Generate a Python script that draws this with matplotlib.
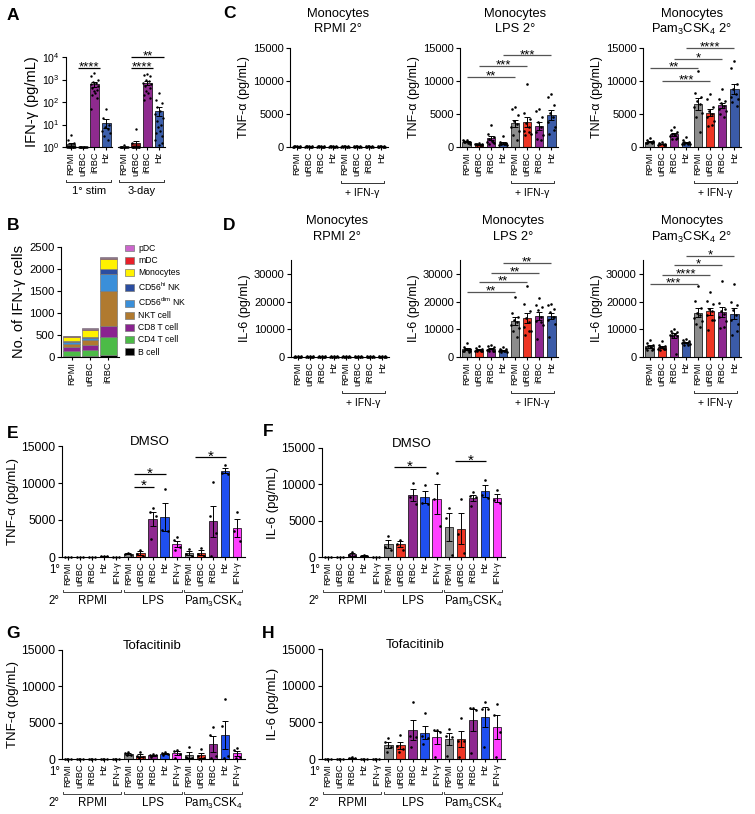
import numpy as np
import matplotlib
matplotlib.use("Agg")
import matplotlib.pyplot as plt
import matplotlib.transforms as mtransforms
from matplotlib.patches import Patch
from matplotlib.ticker import NullLocator, LogFormatterMathtext

plt.rcParams.update({
    'font.family': ['Liberation Sans', 'DejaVu Sans'],
    'mathtext.fontset': 'custom',
    'mathtext.rm': 'Liberation Sans',
    'mathtext.it': 'Liberation Sans:italic',
    'mathtext.bf': 'Liberation Sans:bold',
    'mathtext.default': 'regular',
    'axes.linewidth': 0.8,
})

W, H = 755, 814

# ===================== DATA =====================
# Panel A: IFN-gamma (pg/mL), log scale
a_tick_labels = ['RPMI', 'uRBC', 'iRBC', 'Hz', 'RPMI', 'uRBC', 'iRBC', 'Hz']
a_group_labels = ['1° stim', '3-day']
a_stim = [
    [3.5, 2, 1.5, 1, 1, 1, 1, 1, 1, 1, 1, 1, 1],
    [1, 1, 1, 1, 1, 1, 1, 1, 1, 1, 1, 1],
    [2000, 1400, 1000, 800, 700, 600, 500, 400, 350, 300, 250, 200, 150, 50],
    [50, 20, 10, 8, 6, 5, 4, 3, 2],
]
a_3day = [
    [1.2, 1, 1, 1, 1, 1, 1, 1, 1, 1, 1, 1],
    [6, 1.5, 1, 1, 1, 1, 1, 1, 1, 1, 1, 1],
    [1800, 1600, 1400, 1000, 900, 700, 600, 500, 400, 300, 250, 200, 150, 120],
    [250, 120, 90, 60, 40, 30, 20, 15, 10, 8, 5, 4, 3, 2, 1.5, 1.2],
]
a_sig = [(1, 2, '****', 3200), (5, 6, '****', 3200), (5, 7, '**', 10000)]

# Panel B: number of IFN-gamma+ cells (stacked)
b_samples = ['RPMI', 'uRBC', 'iRBC']
b_bcell = [15, 15, 45]
b_cd4 = [115, 155, 410]
b_cd8 = [100, 110, 245]
b_nkt = [60, 100, 790]
b_cd56dim = [40, 50, 400]
b_cd56hi = [25, 25, 110]
b_mono = [100, 165, 230]
b_mdc = [15, 25, 30]
b_pdc = [5, 5, 10]
b_cell_labels = ['B cell', 'CD4 T cell', 'CD8 T cell', 'NKT cell', 'CD56$^{dim}$ NK',
                 'CD56$^{hi}$ NK', 'Monocytes', 'mDC', 'pDC']

# Panels C/D: monocytes, 8 conditions
cd_tick_labels = ['RPMI', 'uRBC', 'iRBC', 'Hz', 'RPMI', 'uRBC', 'iRBC', 'Hz']
c_rpmi_tnf = [[150, 120, 100, 80, 60, 50, 40, 30, 20]] * 8
c_lps_tnf = [
    [1000, 900, 800, 700, 600, 1100, 500, 800, 700],
    [600, 500, 400, 300, 350, 450, 300, 400, 300],
    [3400, 2000, 1500, 1200, 900, 800, 600, 500, 800],
    [1700, 700, 600, 500, 400, 300, 300, 400, 500],
    [6000, 5700, 4800, 4000, 3500, 3000, 2500, 1800, 1100],
    [9500, 5200, 4300, 3700, 3000, 2500, 2000, 1800, 2200],
    [5800, 5400, 4500, 3800, 3000, 2300, 1800, 1200, 1000],
    [8100, 7600, 6400, 5200, 4500, 3800, 3000, 2000, 2600],
]
c_pam_tnf = [
    [1300, 1000, 900, 800, 700, 600, 700, 600, 600],
    [700, 600, 500, 450, 400, 350, 300, 400, 350],
    [3000, 2600, 2300, 2000, 1800, 1600, 1400, 1200, 1200],
    [1500, 1000, 800, 700, 600, 500, 400, 400, 400],
    [11500, 8200, 7600, 7000, 6500, 6000, 5200, 4500, 2300],
    [8000, 7200, 6000, 5500, 5000, 4500, 4000, 3200, 3400],
    [8800, 7300, 7000, 6600, 6200, 5800, 5400, 5000, 4600],
    [13000, 12000, 9500, 8800, 8000, 7600, 7300, 6800, 6200],
]
d_rpmi_il6 = [[300, 250, 200, 150, 120, 100, 80, 60, 40]] * 8
d_lps_il6 = [
    [5200, 3500, 3000, 2800, 2500, 2300, 2000, 2000, 1900],
    [3800, 3200, 2900, 2600, 2400, 2200, 2000, 2100, 2200],
    [4500, 4000, 3500, 3000, 2800, 2500, 2300, 2200, 2200],
    [3600, 3000, 2800, 2400, 2200, 2000, 1800, 1800, 2000],
    [21700, 16000, 14500, 13500, 12500, 11500, 10500, 9500, 7300],
    [25700, 19300, 16500, 14000, 12500, 11000, 9500, 8000, 9500],
    [21300, 18700, 18000, 16800, 14500, 13000, 11500, 6600, 12800],
    [19300, 18700, 17500, 16300, 14500, 13300, 12000, 7200, 14400],
]
d_pam_il6 = [
    [6300, 5000, 4500, 4000, 3500, 3200, 2800, 2500, 2400],
    [5700, 4500, 4000, 3600, 3300, 3000, 2800, 2500, 3000],
    [10000, 9500, 9200, 8800, 8400, 8000, 7500, 7700, 1100],
    [6500, 6000, 5800, 5500, 5200, 5000, 4800, 4500, 4400],
    [25500, 20100, 17700, 16000, 15000, 14000, 13000, 12000, 10700],
    [23500, 20100, 19000, 17500, 16500, 15000, 13500, 9900, 13500],
    [27600, 19500, 17500, 16500, 15500, 14500, 13000, 10500, 10800],
    [26500, 19800, 18900, 17100, 15000, 13500, 12000, 8100, 9500],
]
c_lps_sig = [(0, 4, '**', 10600), (1, 5, '***', 12300), (3, 7, '***', 13900)]
c_pam_sig = [(3, 7, '****', 15000), (2, 6, '*', 13400), (0, 4, '**', 12000), (1, 5, '***', 10000)]
d_lps_sig = [(0, 4, '**', 23600), (1, 5, '**', 27100), (2, 6, '**', 30400), (3, 7, '**', 33900)]
d_pam_sig = [(0, 4, '***', 26400), (1, 5, '****', 29600), (2, 6, '*', 33200), (3, 7, '*', 36500)]

# Panels E-H: 15 conditions (1° x 2°)
eh_tick_labels = ['RPMI', 'uRBC', 'iRBC', 'Hz', 'IFN-γ'] * 3
eh_group_labels = ['RPMI', 'LPS', 'Pam$_3$CSK$_4$']
e_dmso_tnf = [
    [30, 30, 30], [30, 30, 30], [60, 60, 60], [200, 150, 100], [40, 40, 40],
    [600, 450, 300], [1000, 350, 100], [6600, 6100, 5500, 2500], [9200, 3600, 3500], [2700, 2250, 1350, 900],
    [1100, 450, 100], [1200, 450, 100], [10100, 5600, 3300, 200], [12400, 11400, 11200], [6100, 3500, 2100],
]
f_dmso_il6 = [
    [30, 30, 30], [30, 30, 30], [700, 250, 100], [300, 200, 100], [30, 30, 30],
    [2950, 1400, 1000], [2400, 1800, 1000], [10200, 8200, 7300], [9900, 7500, 7300], [11500, 7960, 4320],
    [6700, 5300, 300], [8000, 3100, 600], [8900, 8400, 8200, 7000], [10600, 8500, 8100], [9200, 7900, 7400],
]
g_tofa_tnf = [
    [30, 30, 30, 30], [30, 30, 30, 30], [60, 60, 60, 60], [30, 30, 30, 30], [30, 30, 30, 30],
    [900, 800, 600, 500], [1000, 400, 300, 100], [700, 600, 500, 300], [900, 800, 700, 600], [1200, 1150, 700, 100],
    [1600, 300, 200, 100], [1400, 400, 150, 50], [4400, 3300, 400, 100], [8260, 4500, 400, 200], [1500, 1300, 300, 100],
]
h_tofa_il6 = [
    [30, 30, 30, 30], [30, 30, 30, 30], [250, 150, 100, 100], [30, 30, 30, 30], [30, 30, 30, 30],
    [2850, 2300, 1600, 900], [3300, 1800, 1400, 900], [7800, 3200, 3000, 1700], [6300, 3200, 2900, 2000], [3900, 3900, 3700, 230],
    [4130, 3200, 2980, 460], [5600, 2500, 2500, 230], [6900, 6900, 6650, 780], [7800, 6800, 6800, 1700], [7500, 6000, 3700, 230],
]
e_sig = [(6, 7, '*', 9500), (6, 8, '*', 11200), (11, 13, '*', 13500)]
f_sig = [(6, 8, '*', 12400), (11, 13, '*', 13200)]

# ===================== STYLE =====================
a_colors = ['#4a4a4a', '#8b1a1a', '#8e2a8e', '#3c5fab'] * 2
cd_colors = ['#8c8c8c', '#ee3524', '#8e2890', '#3b5ba8'] * 2
eh_colors = ['#8c8c8c', '#ee3524', '#8e2890', '#1f4ff0', '#ff40ff'] * 3
b_colors = ['#000000', '#4cbb47', '#8a2390', '#b07a30', '#3a8fd9', '#2b4da0', '#fff200', '#e8202a', '#cc66cc']
JIT = np.array([0.0, -0.25, 0.25, -0.12, 0.12, -0.3, 0.3, -0.18, 0.18, -0.06, 0.06, -0.22, 0.22, -0.28, 0.28, 0.0])

fig = plt.figure(figsize=(W / 100, H / 100), dpi=100)


def make_ax(l, t, r, b):
    return fig.add_axes([l / W, 1 - b / H, (r - l) / W, (b - t) / H])


def ftext(x, y, s, **kw):
    fig.text(x / W, 1 - y / H, s, **kw)


def style(ax, yfs=8.2):
    for s in ['top', 'right']:
        ax.spines[s].set_visible(False)
    ax.tick_params(axis='y', direction='out', length=3, width=0.8, pad=1.5, labelsize=yfs)
    ax.tick_params(axis='x', direction='out', length=2, width=0.8, pad=1.5, labelsize=6.7)


def draw_bars(ax, pos, groups, colors, width, log=False, s=3.5):
    for x, pts, col in zip(pos, groups, colors):
        pts = np.asarray(pts, float)
        m = pts.mean()
        se = pts.std(ddof=1) / np.sqrt(len(pts))
        if log:
            ax.bar(x, m - 1, width, bottom=1, color=col, edgecolor='k', linewidth=0.5, zorder=2)
            lo = max(0.0, min(se, m - 1.0001))
            ax.errorbar(x, m, yerr=[[lo], [se]], fmt='none', ecolor='k', elinewidth=0.7,
                        capsize=2, capthick=0.7, zorder=4)
        else:
            ax.bar(x, m, width, color=col, edgecolor='k', linewidth=0.5, zorder=2)
            ax.errorbar(x, m, yerr=se, fmt='none', ecolor='k', elinewidth=0.7,
                        capsize=2, capthick=0.7, zorder=4)
        offs = JIT[:len(pts)] * width / 0.7
        ax.scatter(x + offs, pts, s=s, c='k', linewidths=0, zorder=5, clip_on=False)


def sig(ax, pos, spec, color='k', fs=11, ext=(0.0, 0.0), dy=-2.5):
    for i, j, lab, y in spec:
        x0 = pos[i] + ext[0]
        x1 = pos[j] + ext[1]
        ax.plot([x0, x1], [y, y], color=color, lw=0.9, clip_on=False, solid_capstyle='butt', zorder=6)
        ax.annotate(lab, xy=((x0 + x1) / 2, y), xytext=(0, dy), textcoords='offset points',
                    ha='center', va='baseline', fontsize=fs, annotation_clip=False)


def bracket(ax, x0, x1, dy, hpx, label=None, tdy=10, fs=7.5, color='#333333'):
    tr = mtransforms.blended_transform_factory(ax.transData, ax.transAxes)
    y = -dy / hpx
    yt = -(dy - 2.5) / hpx
    ax.plot([x0, x0, x1, x1], [yt, y, y, yt], transform=tr, clip_on=False, color=color, lw=0.7)
    if label is not None:
        ax.text((x0 + x1) / 2, -(dy + tdy) / hpx, label, transform=tr, ha='center', va='center',
                fontsize=fs)


# ===================== PANEL A =====================
axA = make_ax(66, 57, 166, 147)
a_pos = [0, 1, 2, 3, 4.5, 5.5, 6.5, 7.5]
axA.set_yscale('log')
draw_bars(axA, a_pos, a_stim + a_3day, a_colors, 0.75, log=True, s=3)
axA.set_ylim(1, 1e4)
axA.set_xlim(-0.43, 8.1)
style(axA, yfs=7.6)
axA.set_yticks([1, 10, 100, 1000, 10000])
axA.yaxis.set_major_formatter(LogFormatterMathtext())
axA.yaxis.set_minor_locator(NullLocator())
axA.spines['bottom'].set_visible(False)
axA.set_xticks(a_pos)
axA.set_xticklabels(a_tick_labels, rotation=90)
trA = mtransforms.blended_transform_factory(axA.transData, axA.transAxes)
axA.plot([-0.5, 3.5], [0, 0], transform=trA, color='k', lw=0.8, clip_on=False)
axA.plot([4.0, 8.0], [0, 0], transform=trA, color='k', lw=0.8, clip_on=False)
axA.set_ylabel('IFN-γ (pg/mL)', fontsize=10.5, labelpad=2)
sig(axA, a_pos, a_sig, fs=9.5, ext=(-0.4, 0.45), dy=-2.0)
bracket(axA, -0.4, 3.4, 35, 90, a_group_labels[0], tdy=9, fs=8)
bracket(axA, 4.1, 7.9, 35, 90, a_group_labels[1], tdy=9, fs=8)

# ===================== PANEL B =====================
axB = make_ax(61, 247, 119, 357)
b_pos = np.arange(len(b_samples))
b_layers = [b_bcell, b_cd4, b_cd8, b_nkt, b_cd56dim, b_cd56hi, b_mono, b_mdc, b_pdc]
bottom = np.zeros(len(b_samples))
for vals, col in zip(b_layers, b_colors):
    axB.bar(b_pos, vals, 0.93, bottom=bottom, color=col, edgecolor='#7a7a7a', linewidth=0.5, zorder=2)
    bottom += np.asarray(vals, float)
axB.set_ylim(0, 2500)
axB.set_xlim(-0.6, 2.6)
style(axB, yfs=8.2)
axB.set_yticks([0, 500, 1000, 1500, 2000, 2500])
axB.set_xticks(b_pos)
axB.set_xticklabels(b_samples, rotation=90)
axB.set_ylabel('No. of IFN-γ cells', fontsize=10.5, labelpad=2)
handles = [Patch(facecolor=c, edgecolor='#7a7a7a', linewidth=0.5) for c in b_colors][::-1]
fig.legend(handles, b_cell_labels[::-1], loc='upper left', bbox_to_anchor=(125 / W, 1 - 244 / H),
           frameon=False, fontsize=6.2, handlelength=1.0, handleheight=0.85, handletextpad=0.5,
           labelspacing=0.36, borderaxespad=0, borderpad=0)

# ===================== PANELS C / D =====================
cd_pos = np.arange(8)
c_specs = [
    (290, c_rpmi_tnf, None, 'RPMI 2°', 338),
    (460, c_lps_tnf, c_lps_sig, 'LPS 2°', 515),
    (643, c_pam_tnf, c_pam_sig, 'Pam$_3$CSK$_4$ 2°', 692),
]
for l, data, sg, title, tx in c_specs:
    ax = make_ax(l, 48, l + 98, 147)
    draw_bars(ax, cd_pos, data, cd_colors, 0.7)
    ax.set_ylim(0, 15000)
    ax.set_xlim(-0.55, 7.55)
    style(ax, yfs=8.0)
    ax.set_yticks([0, 5000, 10000, 15000])
    ax.set_xticks(cd_pos)
    ax.set_xticklabels(cd_tick_labels, rotation=90)
    ax.set_ylabel('TNF-α (pg/mL)', fontsize=9, labelpad=2)
    if sg:
        sig(ax, cd_pos, sg, color='#555555', fs=9.5, dy=-2.0)
    bracket(ax, 3.65, 7.2, 36, 99, '+ IFN-γ', tdy=10, fs=7.5)
    ftext(tx, 14, 'Monocytes', ha='center', va='center', fontsize=9.3)
    ftext(tx, 29, title, ha='center', va='center', fontsize=9.3)

d_specs = [
    (291, d_rpmi_il6, None, 'RPMI 2°', 337),
    (460, d_lps_il6, d_lps_sig, 'LPS 2°', 513),
    (643, d_pam_il6, d_pam_sig, 'Pam$_3$CSK$_4$ 2°', 692),
]
for l, data, sg, title, tx in d_specs:
    ax = make_ax(l, 260, l + 98, 357)
    draw_bars(ax, cd_pos, data, cd_colors, 0.7)
    ax.set_ylim(0, 35000)
    ax.set_xlim(-0.55, 7.55)
    style(ax, yfs=8.0)
    ax.set_yticks([0, 10000, 20000, 30000])
    ax.set_xticks(cd_pos)
    ax.set_xticklabels(cd_tick_labels, rotation=90)
    ax.set_ylabel('IL-6 (pg/mL)', fontsize=9, labelpad=2)
    if sg:
        sig(ax, cd_pos, sg, color='#555555', fs=9.5, dy=-2.0)
    bracket(ax, 3.65, 7.2, 36, 97, '+ IFN-γ', tdy=10, fs=7.5)
    ftext(tx, 221, 'Monocytes', ha='center', va='center', fontsize=9.3)
    ftext(tx, 237, title, ha='center', va='center', fontsize=9.3)

# ===================== PANELS E-H =====================
eh_pos = np.arange(15)
eh_specs = [
    (62, 446, 557, e_dmso_tnf, e_sig, 'DMSO', 'TNF-α (pg/mL)', 150),
    (322, 448, 557, f_dmso_il6, f_sig, 'DMSO', 'IL-6 (pg/mL)', 412),
    (62, 650, 759, g_tofa_tnf, None, 'Tofacitinib', 'TNF-α (pg/mL)', 152),
    (322, 649, 759, h_tofa_il6, None, 'Tofacitinib', 'IL-6 (pg/mL)', 415),
]
for l, t, b, data, sg, title, ylab, tx in eh_specs:
    ax = make_ax(l, t, l + 183, b)
    draw_bars(ax, eh_pos, data, eh_colors, 0.7)
    ax.set_ylim(0, 15000)
    ax.set_xlim(-0.5, 14.66)
    style(ax, yfs=8.8)
    ax.set_yticks([0, 5000, 10000, 15000])
    ax.set_xticks(eh_pos)
    ax.set_xticklabels(eh_tick_labels, rotation=90)
    ax.set_ylabel(ylab, fontsize=9.5, labelpad=2)
    if sg:
        sig(ax, eh_pos, sg, color='k', fs=11, ext=(-0.5, 0.1))
    hpx = b - t
    for g in range(3):
        bracket(ax, g * 5 - 0.4, g * 5 + 4.4, 35, hpx, eh_group_labels[g], tdy=9, fs=8.3,
                color='#444444')
    ftext(l - 7, b + 13, '1°', ha='center', va='center', fontsize=8.3)
    ftext(l - 8, b + 44, '2°', ha='center', va='center', fontsize=8.3)
    ftext(tx, t - 4, title, ha='center', va='center', fontsize=9.5)

# ===================== PANEL LETTERS =====================
for lab, x, y in [('A', 13, 15), ('B', 13, 226), ('C', 230, 13), ('D', 229, 226),
                  ('E', 13, 433), ('F', 268, 432), ('G', 13, 633), ('H', 268, 633)]:
    ftext(x, y, lab, ha='center', va='center', fontsize=12.5, fontweight='bold')

fig.savefig('out.png', dpi=100)
